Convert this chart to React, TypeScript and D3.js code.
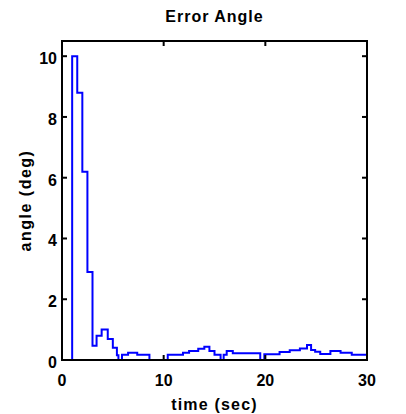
import React from "react";
import * as d3 from "d3";

const stepTimes = [0, 1.0, 1.5, 2.0, 2.5, 3.0, 3.4, 3.9, 4.5, 5.0, 5.4, 5.55, 5.9, 6.5, 7.4, 8.6, 10.4, 11.9, 12.5, 13.4, 14.0, 14.5, 15.0, 15.6, 15.9, 16.2, 16.8, 19.5, 19.9, 21.4, 22.4, 23.4, 24.1, 24.5, 24.9, 25.4, 26.4, 27.4, 28.5, 30];
const stepValues = [0, 10.0, 8.8, 6.2, 2.9, 0.47, 0.8, 1.0, 0.69, 0.4, 0.16, 0, 0.17, 0.24, 0.17, 0, 0.17, 0.24, 0.3, 0.37, 0.44, 0.3, 0.17, 0, 0.17, 0.3, 0.22, 0, 0.19, 0.26, 0.32, 0.38, 0.49, 0.33, 0.27, 0.2, 0.3, 0.24, 0.17, 0.17];
const xTicks = [0, 10, 20, 30];
const yTicks = [0, 2, 4, 6, 8, 10];

export default function App() {
  const W = 406, H = 414;
  const left = 62, right = 367, top = 41, bottom = 360;
  const x = d3.scaleLinear().domain([0, 30]).range([left, right]);
  const y = d3.scaleLinear().domain([0, 10.5]).range([bottom, top]);
  const pts = stepTimes.map((t, i) => [t, stepValues[i]] as [number, number]);
  const line = d3.line<[number, number]>().x(d => x(d[0])).y(d => y(d[1])).curve(d3.curveStepAfter);
  const font = "'Liberation Sans', Arial, Helvetica, sans-serif";
  const tl = 5;
  return (
    <svg width={W} height={H} style={{ position: "absolute", left: 0, top: 0, background: "#fff" }}>
      <rect x={0} y={0} width={W} height={H} fill="#fff" />
      <text x={(left + right) / 2} y={22} textAnchor="middle" fontFamily={font} fontWeight="bold" fontSize={16} letterSpacing={1}>Error Angle</text>
      <path d={line(pts) || ""} fill="none" stroke="#0000ff" strokeWidth={2} strokeLinejoin="miter" />
      <g stroke="#000" strokeWidth={2} fill="none">
        <rect x={left} y={top} width={right - left} height={bottom - top} />
        {xTicks.map(t => (
          <g key={"x" + t}>
            <line x1={x(t)} x2={x(t)} y1={bottom} y2={bottom - tl} />
            <line x1={x(t)} x2={x(t)} y1={top} y2={top + tl} />
          </g>
        ))}
        {yTicks.map(t => (
          <g key={"y" + t}>
            <line x1={left} x2={left + tl} y1={y(t)} y2={y(t)} />
            <line x1={right} x2={right - tl} y1={y(t)} y2={y(t)} />
          </g>
        ))}
      </g>
      <g fontFamily={font} fontWeight="bold" fontSize={16} fill="#000">
        {xTicks.map(t => (
          <text key={"xl" + t} x={x(t)} y={386} textAnchor="middle">{t}</text>
        ))}
        {yTicks.map(t => (
          <text key={"yl" + t} x={57} y={y(t) + 8} textAnchor="end">{t}</text>
        ))}
        <text x={(left + right) / 2 + 0} y={410} textAnchor="middle" letterSpacing={1.2}>time (sec)</text>
        <text transform={`translate(31,${(top + bottom) / 2}) rotate(-90)`} textAnchor="middle" letterSpacing={1.5}>angle (deg)</text>
      </g>
    </svg>
  );
}
